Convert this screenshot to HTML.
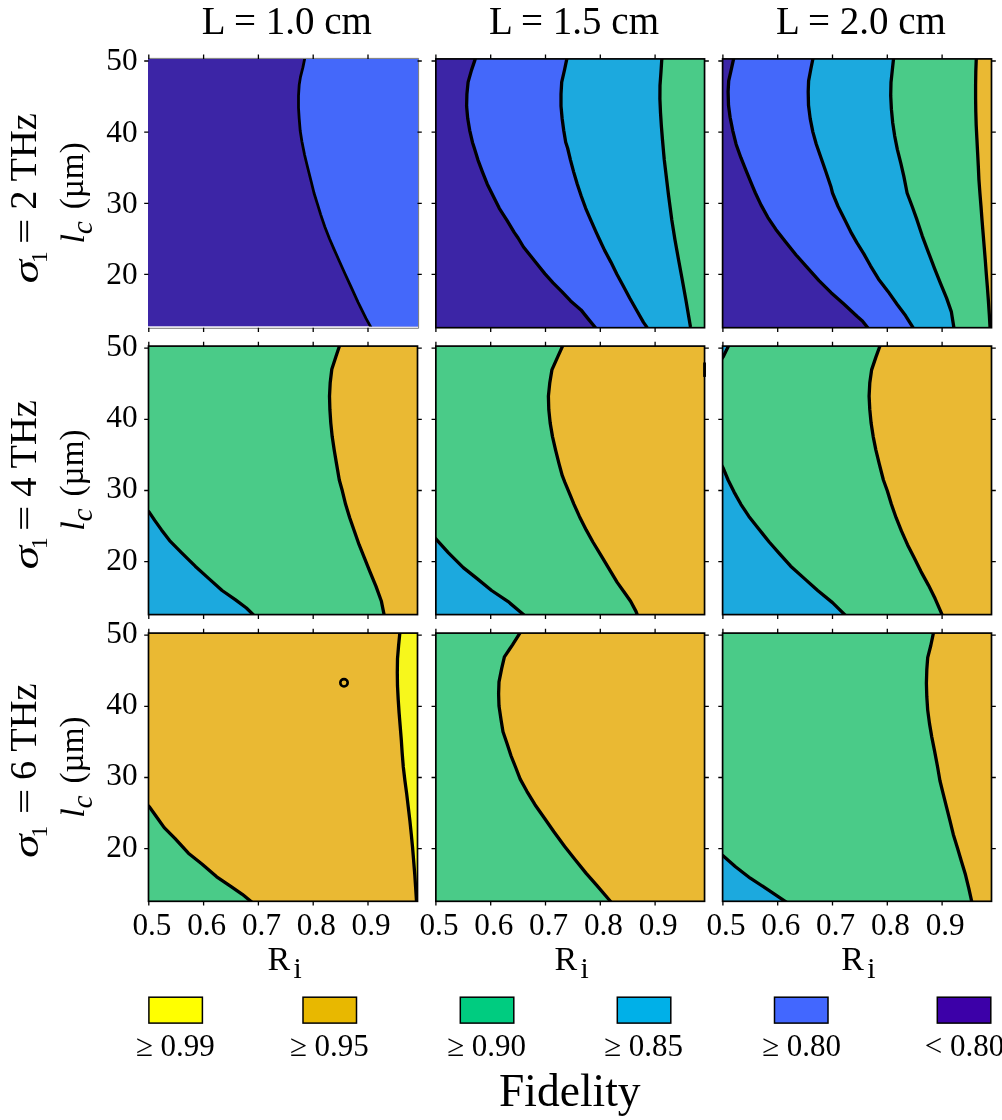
<!DOCTYPE html>
<html><head><meta charset="utf-8"><style>
html,body{margin:0;padding:0;background:#fff;}
body{width:1002px;height:1120px;overflow:hidden;}
svg{display:block;will-change:transform;}
text{font-family:"Liberation Serif",serif;fill:#000;}
</style></head><body>
<svg width="1002" height="1120" viewBox="0 0 1002 1120">
<rect width="1002" height="1120" fill="#fff"/>
<clipPath id="cp00"><rect x="148" y="58.9" width="270.15" height="267.7"/></clipPath>
<g clip-path="url(#cp00)">
<rect x="148" y="58.9" width="270.15" height="267.7" fill="#3c25a6"/>
<polygon points="305.4,55.3 302.9,67.4 300.5,76.9 299.2,84.9 298.5,95.7 298.5,107.9 299.2,118.6 300.2,130.8 301.9,141.5 304.6,155 307.9,168.5 311.3,182 314,193 317.4,203.8 320.7,214.6 324.8,226.7 329.5,238.8 334.2,249.6 339.6,261.7 345,273.8 350.7,286.2 358.1,302.3 366,318.4 370,325.6 372.3,330.2 447.5,360.2 447.5,25.3" fill="#4468fa"/>
<polyline points="305.4,55.3 302.9,67.4 300.5,76.9 299.2,84.9 298.5,95.7 298.5,107.9 299.2,118.6 300.2,130.8 301.9,141.5 304.6,155 307.9,168.5 311.3,182 314,193 317.4,203.8 320.7,214.6 324.8,226.7 329.5,238.8 334.2,249.6 339.6,261.7 345,273.8 350.7,286.2 358.1,302.3 366,318.4 370,325.6 372.3,330.2" fill="none" stroke="#000" stroke-width="2.8" stroke-linejoin="round"/>
</g>
<path d="M148 58.4H418.6V328.3H148" fill="none" stroke="#6a6a6a" stroke-width="0.9"/>
<path d="M148.8 58.9v-4.3M148.8 327.7v4.3M203.6 58.9v-4.3M203.6 327.7v4.3M258.4 58.9v-4.3M258.4 327.7v4.3M313.2 58.9v-4.3M313.2 327.7v4.3M368 58.9v-4.3M368 327.7v4.3M148.5 61h-4.3M417.5 61h4.3M148.5 132.15h-4.3M417.5 132.15h4.3M148.5 203.3h-4.3M417.5 203.3h4.3M148.5 274.45h-4.3M417.5 274.45h4.3" stroke="#000" stroke-width="1.3" fill="none"/>
<clipPath id="cp01"><rect x="435.85" y="58.9" width="268.7" height="268.8"/></clipPath>
<g clip-path="url(#cp01)">
<rect x="435.85" y="58.9" width="268.7" height="268.8" fill="#3c25a6"/>
<polygon points="476.3,55.3 474.8,60.4 471.5,70.1 468.1,82.1 466.9,94.2 466.6,106.2 467.7,118.3 469.7,130.3 472.5,142.4 474.3,148 478,160.1 482.5,172.1 487.3,184.2 493.3,196.2 499.3,208.3 507,220.3 514.2,232.4 518.1,238 523.5,247 530.7,256 537.9,265 545,273.9 553.1,282.9 562.1,291.9 570.6,300.9 581,309.9 588.2,318.9 594.9,327 597.5,330.2 734.55,360.2 734.55,25.3" fill="#4468fa"/>
<polygon points="567.6,55.3 566.5,60.4 564.5,70 561.7,82.1 561,94.1 561,106.2 562.1,118.2 563.7,130.3 565.7,142.3 567.6,148 570.5,160.1 573.7,172.1 577.3,184.2 581.3,196.2 585.7,208.3 590.9,220.3 596.2,232.4 598.8,238 604.5,250.1 610.9,262.1 616.9,274.2 623.4,286.2 629.8,298.3 636.6,310.3 643.5,322.4 646.3,326.4 648.6,330.2 734.55,360.2 734.55,25.3" fill="#1ca9de"/>
<polygon points="662.2,55.3 661.7,60.7 661,71.7 660,85.3 659.9,99 660.5,112.6 661.4,126.3 662.5,140 663.7,153.6 664.3,160 668.5,195 671.8,220 675,240 678.6,260 682.3,280 685.9,300 689.3,320 690.5,327 691.2,330.2 734.55,360.2 734.55,25.3" fill="#4acb88"/>
<polyline points="476.3,55.3 474.8,60.4 471.5,70.1 468.1,82.1 466.9,94.2 466.6,106.2 467.7,118.3 469.7,130.3 472.5,142.4 474.3,148 478,160.1 482.5,172.1 487.3,184.2 493.3,196.2 499.3,208.3 507,220.3 514.2,232.4 518.1,238 523.5,247 530.7,256 537.9,265 545,273.9 553.1,282.9 562.1,291.9 570.6,300.9 581,309.9 588.2,318.9 594.9,327 597.5,330.2" fill="none" stroke="#000" stroke-width="3.3" stroke-linejoin="round"/>
<polyline points="567.6,55.3 566.5,60.4 564.5,70 561.7,82.1 561,94.1 561,106.2 562.1,118.2 563.7,130.3 565.7,142.3 567.6,148 570.5,160.1 573.7,172.1 577.3,184.2 581.3,196.2 585.7,208.3 590.9,220.3 596.2,232.4 598.8,238 604.5,250.1 610.9,262.1 616.9,274.2 623.4,286.2 629.8,298.3 636.6,310.3 643.5,322.4 646.3,326.4 648.6,330.2" fill="none" stroke="#000" stroke-width="3.3" stroke-linejoin="round"/>
<polyline points="662.2,55.3 661.7,60.7 661,71.7 660,85.3 659.9,99 660.5,112.6 661.4,126.3 662.5,140 663.7,153.6 664.3,160 668.5,195 671.8,220 675,240 678.6,260 682.3,280 685.9,300 689.3,320 690.5,327 691.2,330.2" fill="none" stroke="#000" stroke-width="3.3" stroke-linejoin="round"/>
</g>
<rect x="435.85" y="58.9" width="268.7" height="268.8" fill="none" stroke="#000" stroke-width="1.7"/>
<path d="M435.9 58.9v-4.3M435.9 327.7v4.3M490.7 58.9v-4.3M490.7 327.7v4.3M545.5 58.9v-4.3M545.5 327.7v4.3M600.3 58.9v-4.3M600.3 327.7v4.3M655.1 58.9v-4.3M655.1 327.7v4.3M435.85 61h-4.3M704.55 61h4.3M435.85 132.15h-4.3M704.55 132.15h4.3M435.85 203.3h-4.3M704.55 203.3h4.3M435.85 274.45h-4.3M704.55 274.45h4.3" stroke="#000" stroke-width="1.3" fill="none"/>
<clipPath id="cp02"><rect x="722.6" y="58.9" width="268.9" height="268.8"/></clipPath>
<g clip-path="url(#cp02)">
<rect x="722.6" y="58.9" width="268.9" height="268.8" fill="#3c25a6"/>
<polygon points="734.4,55.3 731.4,68.8 728.7,80.9 728.1,91.7 728.5,105.2 730.1,117.3 732.8,130.8 736.1,144.2 740.9,157.7 746.3,171.2 753,187.3 755.4,193 761.1,205.1 767.8,217.3 775.9,229.4 785.3,241.5 796.1,255 806.9,267.1 819,280.6 831.1,292.7 843.3,303.5 857,316.3 862.4,321 869.7,330.2 1021.5,360.2 1021.5,25.3" fill="#4468fa"/>
<polygon points="813.6,55.3 810.9,68.8 808.6,80.9 808.2,91.7 808.5,105.2 810.2,118.6 812.9,132.1 816.3,144.2 821,157.7 825.7,171.2 831.1,187.3 832.5,193 838.1,206.5 844.9,219.9 851.6,233.4 857,242.9 863.7,253.6 870.5,265.8 878.6,279.2 888,291.4 897.4,304.8 905.5,315.6 914.7,330.2 1021.5,360.2 1021.5,25.3" fill="#1ca9de"/>
<polygon points="893.9,55.3 892.3,70.1 891,82.3 890.7,95.7 891.4,109.2 892.7,122.7 894.7,136.1 897.4,149.6 900.8,163.1 903.9,176.6 907.1,193 912.2,206.5 917,219.9 922.3,236.1 928.4,252.3 934.5,268.4 940.5,283.3 946.6,298.1 951.3,311.6 954.3,330.2 1021.5,360.2 1021.5,25.3" fill="#4acb88"/>
<polygon points="976.4,55.3 975.8,71.5 975.6,84.9 975.6,98.4 975.8,111.9 976.2,125.4 976.9,138.8 977.6,152.3 978.3,165.8 978.9,179.3 979.9,193 981,206.5 982,219.9 983.1,233.4 984.2,246.9 985.3,260.4 986.3,273.8 987.4,287.3 988.4,300.8 989.3,314.3 990.2,330.2 1021.5,360.2 1021.5,25.3" fill="#eab933"/>
<polyline points="734.4,55.3 731.4,68.8 728.7,80.9 728.1,91.7 728.5,105.2 730.1,117.3 732.8,130.8 736.1,144.2 740.9,157.7 746.3,171.2 753,187.3 755.4,193 761.1,205.1 767.8,217.3 775.9,229.4 785.3,241.5 796.1,255 806.9,267.1 819,280.6 831.1,292.7 843.3,303.5 857,316.3 862.4,321 869.7,330.2" fill="none" stroke="#000" stroke-width="3.3" stroke-linejoin="round"/>
<polyline points="813.6,55.3 810.9,68.8 808.6,80.9 808.2,91.7 808.5,105.2 810.2,118.6 812.9,132.1 816.3,144.2 821,157.7 825.7,171.2 831.1,187.3 832.5,193 838.1,206.5 844.9,219.9 851.6,233.4 857,242.9 863.7,253.6 870.5,265.8 878.6,279.2 888,291.4 897.4,304.8 905.5,315.6 914.7,330.2" fill="none" stroke="#000" stroke-width="3.3" stroke-linejoin="round"/>
<polyline points="893.9,55.3 892.3,70.1 891,82.3 890.7,95.7 891.4,109.2 892.7,122.7 894.7,136.1 897.4,149.6 900.8,163.1 903.9,176.6 907.1,193 912.2,206.5 917,219.9 922.3,236.1 928.4,252.3 934.5,268.4 940.5,283.3 946.6,298.1 951.3,311.6 954.3,330.2" fill="none" stroke="#000" stroke-width="3.3" stroke-linejoin="round"/>
<polyline points="976.4,55.3 975.8,71.5 975.6,84.9 975.6,98.4 975.8,111.9 976.2,125.4 976.9,138.8 977.6,152.3 978.3,165.8 978.9,179.3 979.9,193 981,206.5 982,219.9 983.1,233.4 984.2,246.9 985.3,260.4 986.3,273.8 987.4,287.3 988.4,300.8 989.3,314.3 990.2,330.2" fill="none" stroke="#000" stroke-width="3.3" stroke-linejoin="round"/>
</g>
<rect x="722.6" y="58.9" width="268.9" height="268.8" fill="none" stroke="#000" stroke-width="1.7"/>
<path d="M722.9 58.9v-4.3M722.9 327.7v4.3M777.7 58.9v-4.3M777.7 327.7v4.3M832.5 58.9v-4.3M832.5 327.7v4.3M887.3 58.9v-4.3M887.3 327.7v4.3M942.1 58.9v-4.3M942.1 327.7v4.3M722.6 61h-4.3M991.5 61h4.3M722.6 132.15h-4.3M991.5 132.15h4.3M722.6 203.3h-4.3M991.5 203.3h4.3M722.6 274.45h-4.3M991.5 274.45h4.3" stroke="#000" stroke-width="1.3" fill="none"/>
<clipPath id="cp10"><rect x="148.5" y="346.1" width="269" height="268.5"/></clipPath>
<g clip-path="url(#cp10)">
<rect x="148.5" y="346.1" width="269" height="268.5" fill="#4acb88"/>
<polygon points="145.3,508.6 149.3,512.3 154.7,520.4 161.5,529.9 169.6,540.6 181.7,552.8 195.2,566.2 208.6,578.4 222.1,590.5 235.6,599.9 246.4,608 255.8,617.2 255.8,644.6 118.5,644.6 118.5,508.6" fill="#1ca9de"/>
<polygon points="340.7,342.3 335.8,357.1 331.8,369.3 330.2,382.7 329.5,396.2 329.9,409.7 330.8,423.1 332.2,436.6 334.2,450.1 336.5,463.6 339.3,480 342.3,490.8 345.6,504.3 349.7,517.7 354.4,531.2 359.1,544.7 364.5,558.1 369.9,571.6 376,586.4 381.4,601.3 384.6,617.2 447.5,647.2 447.5,312.3" fill="#eab933"/>
<polyline points="145.3,508.6 149.3,512.3 154.7,520.4 161.5,529.9 169.6,540.6 181.7,552.8 195.2,566.2 208.6,578.4 222.1,590.5 235.6,599.9 246.4,608 255.8,617.2" fill="none" stroke="#000" stroke-width="3.3" stroke-linejoin="round"/>
<polyline points="340.7,342.3 335.8,357.1 331.8,369.3 330.2,382.7 329.5,396.2 329.9,409.7 330.8,423.1 332.2,436.6 334.2,450.1 336.5,463.6 339.3,480 342.3,490.8 345.6,504.3 349.7,517.7 354.4,531.2 359.1,544.7 364.5,558.1 369.9,571.6 376,586.4 381.4,601.3 384.6,617.2" fill="none" stroke="#000" stroke-width="3.3" stroke-linejoin="round"/>
</g>
<rect x="148.5" y="346.1" width="269" height="268.5" fill="none" stroke="#000" stroke-width="1.7"/>
<path d="M148.8 346.1v-4.3M148.8 614.6v4.3M203.6 346.1v-4.3M203.6 614.6v4.3M258.4 346.1v-4.3M258.4 614.6v4.3M313.2 346.1v-4.3M313.2 614.6v4.3M368 346.1v-4.3M368 614.6v4.3M148.5 348.2h-4.3M417.5 348.2h4.3M148.5 419.35h-4.3M417.5 419.35h4.3M148.5 490.5h-4.3M417.5 490.5h4.3M148.5 561.65h-4.3M417.5 561.65h4.3" stroke="#000" stroke-width="1.3" fill="none"/>
<clipPath id="cp11"><rect x="435.85" y="346.1" width="268.7" height="268.5"/></clipPath>
<g clip-path="url(#cp11)">
<rect x="435.85" y="346.1" width="268.7" height="268.5" fill="#4acb88"/>
<polygon points="432.3,535 436.3,539.3 448.5,552.8 463.3,567.6 476.8,578.4 491.6,590.5 507.8,601.3 526.6,617.2 526.6,644.6 405.85,644.6 405.85,535" fill="#1ca9de"/>
<polygon points="564.3,342.3 557.6,357.1 551.9,369.9 549.8,382.7 548.4,396.2 548.8,409.7 550.2,423.1 552.5,436.6 555.6,450.1 559,463.6 562.3,475.7 564.9,482.4 570,494.6 574,504.3 579.4,516.4 586.2,529.9 592.9,542 601,555.4 609.1,568.9 617.2,582.4 623.9,591.8 630.6,601.3 636,611.4 638.2,617.2 734.55,647.2 734.55,312.3" fill="#eab933"/>
<polyline points="432.3,535 436.3,539.3 448.5,552.8 463.3,567.6 476.8,578.4 491.6,590.5 507.8,601.3 526.6,617.2" fill="none" stroke="#000" stroke-width="3.3" stroke-linejoin="round"/>
<polyline points="564.3,342.3 557.6,357.1 551.9,369.9 549.8,382.7 548.4,396.2 548.8,409.7 550.2,423.1 552.5,436.6 555.6,450.1 559,463.6 562.3,475.7 564.9,482.4 570,494.6 574,504.3 579.4,516.4 586.2,529.9 592.9,542 601,555.4 609.1,568.9 617.2,582.4 623.9,591.8 630.6,601.3 636,611.4 638.2,617.2" fill="none" stroke="#000" stroke-width="3.3" stroke-linejoin="round"/>
</g>
<rect x="435.85" y="346.1" width="268.7" height="268.5" fill="none" stroke="#000" stroke-width="1.7"/>
<rect x="703.15" y="362.5" width="2.8" height="14.4" fill="#000"/>
<path d="M435.9 346.1v-4.3M435.9 614.6v4.3M490.7 346.1v-4.3M490.7 614.6v4.3M545.5 346.1v-4.3M545.5 614.6v4.3M600.3 346.1v-4.3M600.3 614.6v4.3M655.1 346.1v-4.3M655.1 614.6v4.3M435.85 348.2h-4.3M704.55 348.2h4.3M435.85 419.35h-4.3M704.55 419.35h4.3M435.85 490.5h-4.3M704.55 490.5h4.3M435.85 561.65h-4.3M704.55 561.65h4.3" stroke="#000" stroke-width="1.3" fill="none"/>
<clipPath id="cp12"><rect x="722.6" y="346.1" width="268.9" height="268.5"/></clipPath>
<g clip-path="url(#cp12)">
<rect x="722.6" y="346.1" width="268.9" height="268.5" fill="#4acb88"/>
<polygon points="719.3,460.9 723.3,468.3 728.1,480 734.1,492.1 740.9,504.3 748.9,516.4 758.4,528.5 769.2,542 779.9,554.1 790.7,566.2 804.2,578.4 817.7,590.5 832.5,602.6 847.3,617.2 847.3,644.6 692.6,644.6 692.6,460.9" fill="#1ca9de"/>
<polygon points="881.3,342.3 875.9,357.1 871.6,369.9 869.8,382.7 869.1,396.2 869.8,409.7 871.1,423.1 873.2,436.6 875.9,450.1 879.2,463.6 883.4,480 887.3,490.8 891.4,504.3 896.1,517.7 901.5,531.2 907.5,544.7 914.3,558.1 921,571.6 928.4,585.1 935.1,598.6 943.2,617.2 1021.5,647.2 1021.5,312.3" fill="#eab933"/>
<polygon points="729.5,343.9 728.2,346.6 723.1,356.9 720.9,360.1 692.6,360.1 692.6,316.1 729.5,316.1" fill="#1ca9de"/>
<polyline points="719.3,460.9 723.3,468.3 728.1,480 734.1,492.1 740.9,504.3 748.9,516.4 758.4,528.5 769.2,542 779.9,554.1 790.7,566.2 804.2,578.4 817.7,590.5 832.5,602.6 847.3,617.2" fill="none" stroke="#000" stroke-width="3.3" stroke-linejoin="round"/>
<polyline points="881.3,342.3 875.9,357.1 871.6,369.9 869.8,382.7 869.1,396.2 869.8,409.7 871.1,423.1 873.2,436.6 875.9,450.1 879.2,463.6 883.4,480 887.3,490.8 891.4,504.3 896.1,517.7 901.5,531.2 907.5,544.7 914.3,558.1 921,571.6 928.4,585.1 935.1,598.6 943.2,617.2" fill="none" stroke="#000" stroke-width="3.3" stroke-linejoin="round"/>
<polyline points="729.5,343.9 728.2,346.6 723.1,356.9 720.9,360.1" fill="none" stroke="#000" stroke-width="3.3" stroke-linejoin="round"/>
</g>
<rect x="722.6" y="346.1" width="268.9" height="268.5" fill="none" stroke="#000" stroke-width="1.7"/>
<path d="M722.9 346.1v-4.3M722.9 614.6v4.3M777.7 346.1v-4.3M777.7 614.6v4.3M832.5 346.1v-4.3M832.5 614.6v4.3M887.3 346.1v-4.3M887.3 614.6v4.3M942.1 346.1v-4.3M942.1 614.6v4.3M722.6 348.2h-4.3M991.5 348.2h4.3M722.6 419.35h-4.3M991.5 419.35h4.3M722.6 490.5h-4.3M991.5 490.5h4.3M722.6 561.65h-4.3M991.5 561.65h4.3" stroke="#000" stroke-width="1.3" fill="none"/>
<clipPath id="cp20"><rect x="148.5" y="633.1" width="269" height="268.2"/></clipPath>
<g clip-path="url(#cp20)">
<rect x="148.5" y="633.1" width="269" height="268.2" fill="#eab933"/>
<polygon points="145.3,803.1 149.3,806.7 156.1,816.2 164.2,827.6 174.9,838.4 188.4,853.2 201.9,864 216.7,876.8 231.5,886.9 242.3,894.3 254.4,904.2 254.4,931.3 118.5,931.3 118.5,803.1" fill="#4acb88"/>
<polygon points="400.2,629.3 398.6,645.5 397.5,658.9 397.3,672.4 397.5,685.9 398.2,699.4 399.1,712.8 400.2,726.3 401.3,739.8 402.2,753.3 403.3,767 404.9,780.5 406.7,793.9 408.3,807.4 409.9,820.9 411.3,834.4 412.6,847.8 413.7,861.3 414.8,874.8 415.7,888.3 416.7,904.2 447.5,934.2 447.5,599.3" fill="#f7f71c"/>
<polyline points="145.3,803.1 149.3,806.7 156.1,816.2 164.2,827.6 174.9,838.4 188.4,853.2 201.9,864 216.7,876.8 231.5,886.9 242.3,894.3 254.4,904.2" fill="none" stroke="#000" stroke-width="3.3" stroke-linejoin="round"/>
<polyline points="400.2,629.3 398.6,645.5 397.5,658.9 397.3,672.4 397.5,685.9 398.2,699.4 399.1,712.8 400.2,726.3 401.3,739.8 402.2,753.3 403.3,767 404.9,780.5 406.7,793.9 408.3,807.4 409.9,820.9 411.3,834.4 412.6,847.8 413.7,861.3 414.8,874.8 415.7,888.3 416.7,904.2" fill="none" stroke="#000" stroke-width="3.3" stroke-linejoin="round"/>
<circle cx="344" cy="682.8" r="3.7" fill="none" stroke="#000" stroke-width="2.6"/>
</g>
<rect x="148.5" y="633.1" width="269" height="268.2" fill="none" stroke="#000" stroke-width="1.7"/>
<path d="M148.8 633.1v-4.3M148.8 901.3v4.3M203.6 633.1v-4.3M203.6 901.3v4.3M258.4 633.1v-4.3M258.4 901.3v4.3M313.2 633.1v-4.3M313.2 901.3v4.3M368 633.1v-4.3M368 901.3v4.3M148.5 635.2h-4.3M417.5 635.2h4.3M148.5 706.35h-4.3M417.5 706.35h4.3M148.5 777.5h-4.3M417.5 777.5h4.3M148.5 848.65h-4.3M417.5 848.65h4.3" stroke="#000" stroke-width="1.3" fill="none"/>
<clipPath id="cp21"><rect x="435.85" y="633.1" width="268.7" height="268.2"/></clipPath>
<g clip-path="url(#cp21)">
<rect x="435.85" y="633.1" width="268.7" height="268.2" fill="#4acb88"/>
<polygon points="522.3,629.3 512.5,644.8 504.4,656.9 501.7,668.4 499,681.9 498.6,694 499,706.1 501,719.6 503,731.7 507.1,743.8 511.1,756 515.5,767 520.2,779.1 526.9,791.3 535,804.7 544.5,818.2 553.9,831.7 564.7,846.5 575.4,860 586.2,873.4 597,885.6 609.1,899.7 612.8,904.2 734.55,934.2 734.55,599.3" fill="#eab933"/>
<polyline points="522.3,629.3 512.5,644.8 504.4,656.9 501.7,668.4 499,681.9 498.6,694 499,706.1 501,719.6 503,731.7 507.1,743.8 511.1,756 515.5,767 520.2,779.1 526.9,791.3 535,804.7 544.5,818.2 553.9,831.7 564.7,846.5 575.4,860 586.2,873.4 597,885.6 609.1,899.7 612.8,904.2" fill="none" stroke="#000" stroke-width="3.3" stroke-linejoin="round"/>
</g>
<rect x="435.85" y="633.1" width="268.7" height="268.2" fill="none" stroke="#000" stroke-width="1.7"/>
<path d="M435.9 633.1v-4.3M435.9 901.3v4.3M490.7 633.1v-4.3M490.7 901.3v4.3M545.5 633.1v-4.3M545.5 901.3v4.3M600.3 633.1v-4.3M600.3 901.3v4.3M655.1 633.1v-4.3M655.1 901.3v4.3M435.85 635.2h-4.3M704.55 635.2h4.3M435.85 706.35h-4.3M704.55 706.35h4.3M435.85 777.5h-4.3M704.55 777.5h4.3M435.85 848.65h-4.3M704.55 848.65h4.3" stroke="#000" stroke-width="1.3" fill="none"/>
<clipPath id="cp22"><rect x="722.6" y="633.1" width="268.9" height="268.2"/></clipPath>
<g clip-path="url(#cp22)">
<rect x="722.6" y="633.1" width="268.9" height="268.2" fill="#4acb88"/>
<polygon points="719.3,853.5 723.3,855.9 735.5,866.7 750.3,878.2 767.8,889.6 789.4,904.2 789.4,931.3 692.6,931.3 692.6,853.5" fill="#1ca9de"/>
<polygon points="934.2,629.3 930.8,645.5 927.7,657.6 926.8,669.7 926.4,683.2 926.8,696.7 927.7,710.1 929.5,723.6 931.8,737.1 934.5,750.6 937.6,767 939.9,780.5 943.2,793.9 946.6,807.4 950,820.9 953.3,834.4 957.4,847.8 961.4,861.3 965.5,874.8 968.8,888.3 972.3,904.2 1021.5,934.2 1021.5,599.3" fill="#eab933"/>
<polyline points="719.3,853.5 723.3,855.9 735.5,866.7 750.3,878.2 767.8,889.6 789.4,904.2" fill="none" stroke="#000" stroke-width="3.3" stroke-linejoin="round"/>
<polyline points="934.2,629.3 930.8,645.5 927.7,657.6 926.8,669.7 926.4,683.2 926.8,696.7 927.7,710.1 929.5,723.6 931.8,737.1 934.5,750.6 937.6,767 939.9,780.5 943.2,793.9 946.6,807.4 950,820.9 953.3,834.4 957.4,847.8 961.4,861.3 965.5,874.8 968.8,888.3 972.3,904.2" fill="none" stroke="#000" stroke-width="3.3" stroke-linejoin="round"/>
</g>
<rect x="722.6" y="633.1" width="268.9" height="268.2" fill="none" stroke="#000" stroke-width="1.7"/>
<path d="M722.9 633.1v-4.3M722.9 901.3v4.3M777.7 633.1v-4.3M777.7 901.3v4.3M832.5 633.1v-4.3M832.5 901.3v4.3M887.3 633.1v-4.3M887.3 901.3v4.3M942.1 633.1v-4.3M942.1 901.3v4.3M722.6 635.2h-4.3M991.5 635.2h4.3M722.6 706.35h-4.3M991.5 706.35h4.3M722.6 777.5h-4.3M991.5 777.5h4.3M722.6 848.65h-4.3M991.5 848.65h4.3" stroke="#000" stroke-width="1.3" fill="none"/>
<text x="286.8" y="33.9" font-size="39" text-anchor="middle">L = 1.0 cm</text>
<text x="574" y="33.9" font-size="39" text-anchor="middle">L = 1.5 cm</text>
<text x="860.9" y="33.9" font-size="39" text-anchor="middle">L = 2.0 cm</text>
<text x="137.6" y="70.4" font-size="31.3" text-anchor="end">50</text>
<text x="137.6" y="141.55" font-size="31.3" text-anchor="end">40</text>
<text x="137.6" y="212.7" font-size="31.3" text-anchor="end">30</text>
<text x="137.6" y="283.85" font-size="31.3" text-anchor="end">20</text>
<text x="137.6" y="356.1" font-size="31.3" text-anchor="end">50</text>
<text x="137.6" y="427.25" font-size="31.3" text-anchor="end">40</text>
<text x="137.6" y="498.4" font-size="31.3" text-anchor="end">30</text>
<text x="137.6" y="569.55" font-size="31.3" text-anchor="end">20</text>
<text x="137.6" y="643.1" font-size="31.3" text-anchor="end">50</text>
<text x="137.6" y="714.25" font-size="31.3" text-anchor="end">40</text>
<text x="137.6" y="785.4" font-size="31.3" text-anchor="end">30</text>
<text x="137.6" y="856.55" font-size="31.3" text-anchor="end">20</text>
<text x="151.9" y="934.8" font-size="31.2" text-anchor="middle">0.5</text>
<text x="206.7" y="934.8" font-size="31.2" text-anchor="middle">0.6</text>
<text x="261.5" y="934.8" font-size="31.2" text-anchor="middle">0.7</text>
<text x="316.3" y="934.8" font-size="31.2" text-anchor="middle">0.8</text>
<text x="371.1" y="934.8" font-size="31.2" text-anchor="middle">0.9</text>
<text x="439" y="934.8" font-size="31.2" text-anchor="middle">0.5</text>
<text x="493.8" y="934.8" font-size="31.2" text-anchor="middle">0.6</text>
<text x="548.6" y="934.8" font-size="31.2" text-anchor="middle">0.7</text>
<text x="603.4" y="934.8" font-size="31.2" text-anchor="middle">0.8</text>
<text x="658.2" y="934.8" font-size="31.2" text-anchor="middle">0.9</text>
<text x="726" y="934.8" font-size="31.2" text-anchor="middle">0.5</text>
<text x="780.8" y="934.8" font-size="31.2" text-anchor="middle">0.6</text>
<text x="835.6" y="934.8" font-size="31.2" text-anchor="middle">0.7</text>
<text x="890.4" y="934.8" font-size="31.2" text-anchor="middle">0.8</text>
<text x="945.2" y="934.8" font-size="31.2" text-anchor="middle">0.9</text>
<text x="267.6" y="969.8" font-size="34">R</text>
<text x="293.6" y="977.6" font-size="29.5">i</text>
<text x="554.4" y="969.8" font-size="34">R</text>
<text x="580.4" y="977.6" font-size="29.5">i</text>
<text x="841.2" y="969.8" font-size="34">R</text>
<text x="867.2" y="977.6" font-size="29.5">i</text>
<text transform="translate(37.7 283.4) rotate(-90)" font-size="36" font-style="italic" textLength="23.6" lengthAdjust="spacingAndGlyphs">σ</text>
<text transform="translate(46.8 263) rotate(-90)" font-size="23.5">1</text>
<rect x="20.2" y="220.8" width="1.8" height="21" fill="#000"/>
<rect x="26.3" y="220.8" width="1.8" height="21" fill="#000"/>
<text transform="translate(36.4 209.8) rotate(-90)" font-size="38.5">2 THz</text>
<text transform="translate(83.6 243.5) rotate(-90)" font-size="34.5" font-style="italic">l</text>
<text transform="translate(91.6 234.3) rotate(-90)" font-size="29.5" font-style="italic">c</text>
<text transform="translate(83.2 209.3) rotate(-90)" font-size="33.2">(µm)</text>
<text transform="translate(37.7 569.5) rotate(-90)" font-size="36" font-style="italic" textLength="23.6" lengthAdjust="spacingAndGlyphs">σ</text>
<text transform="translate(46.8 549.1) rotate(-90)" font-size="23.5">1</text>
<rect x="20.2" y="507.8" width="1.8" height="21" fill="#000"/>
<rect x="26.3" y="507.8" width="1.8" height="21" fill="#000"/>
<text transform="translate(36.4 496.8) rotate(-90)" font-size="38.5">4 THz</text>
<text transform="translate(83.6 530.7) rotate(-90)" font-size="34.5" font-style="italic">l</text>
<text transform="translate(91.6 521.5) rotate(-90)" font-size="29.5" font-style="italic">c</text>
<text transform="translate(83.2 496.5) rotate(-90)" font-size="33.2">(µm)</text>
<text transform="translate(37.7 858) rotate(-90)" font-size="36" font-style="italic" textLength="23.6" lengthAdjust="spacingAndGlyphs">σ</text>
<text transform="translate(46.8 837.6) rotate(-90)" font-size="23.5">1</text>
<rect x="20.2" y="790.9" width="1.8" height="21" fill="#000"/>
<rect x="26.3" y="790.9" width="1.8" height="21" fill="#000"/>
<text transform="translate(36.4 779.9) rotate(-90)" font-size="38.5">6 THz</text>
<text transform="translate(83.6 817.7) rotate(-90)" font-size="34.5" font-style="italic">l</text>
<text transform="translate(91.6 808.5) rotate(-90)" font-size="29.5" font-style="italic">c</text>
<text transform="translate(83.2 783.5) rotate(-90)" font-size="33.2">(µm)</text>
<rect x="148.9" y="997.2" width="53.5" height="25.9" fill="#ffff00" stroke="#000" stroke-width="1.5"/>
<text x="175.3" y="1055.6" font-size="31" text-anchor="middle">≥ 0.99</text>
<rect x="303" y="997.2" width="53.5" height="25.9" fill="#e8b800" stroke="#000" stroke-width="1.5"/>
<text x="329.3" y="1055.6" font-size="31" text-anchor="middle">≥ 0.95</text>
<rect x="460.3" y="997.2" width="53.5" height="25.9" fill="#00cc80" stroke="#000" stroke-width="1.5"/>
<text x="486.5" y="1055.6" font-size="31" text-anchor="middle">≥ 0.90</text>
<rect x="617.3" y="997.2" width="53.5" height="25.9" fill="#00b0e8" stroke="#000" stroke-width="1.5"/>
<text x="643.5" y="1055.6" font-size="31" text-anchor="middle">≥ 0.85</text>
<rect x="774.5" y="997.2" width="53.5" height="25.9" fill="#4267ff" stroke="#000" stroke-width="1.5"/>
<text x="801.5" y="1055.6" font-size="31" text-anchor="middle">≥ 0.80</text>
<rect x="937.3" y="997.2" width="53.5" height="25.9" fill="#3c00a8" stroke="#000" stroke-width="1.5"/>
<text x="964.5" y="1055.6" font-size="31" text-anchor="middle">&lt; 0.80</text>
<text x="569.8" y="1105.8" font-size="45.5" text-anchor="middle">Fidelity</text>
</svg>
</body></html>
